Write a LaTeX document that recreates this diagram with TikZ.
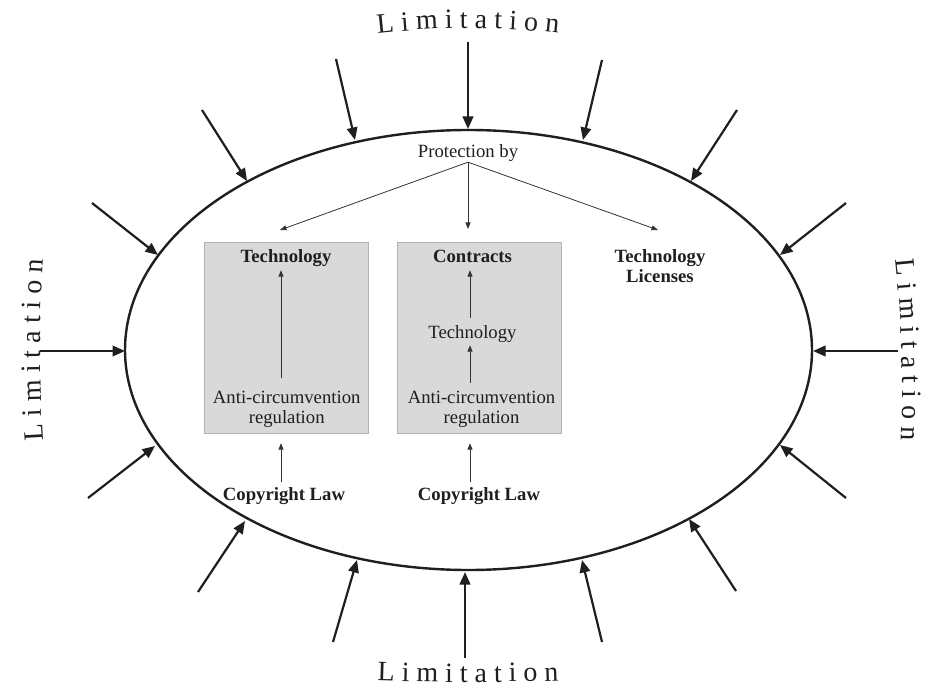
\documentclass[tikz,border=0pt]{standalone}
\usepackage{fontspec}
\setmainfont{Liberation Serif}
\usetikzlibrary{arrows.meta,decorations.text}
\newcommand\limfont{\fontsize{28}{28}\selectfont}
\begin{document}
\begin{tikzpicture}[x=1pt,y=-1pt,
  ell/.style={draw=black!88, line width=2.4pt},
  outarrow/.style={draw=black!88, line width=2.2pt, -{Triangle[length=12.5pt,width=10.5pt]}},
  inarrow/.style={draw=black!80, line width=0.8pt, -{Triangle[length=6.5pt,width=5pt]}},
  graybox/.style={draw=black!30, line width=0.8pt, fill=black!15, inner sep=0pt, minimum width=164pt, minimum height=191pt},
  txt/.style={font=\fontsize{18.7}{21}\selectfont, text=black!88, inner sep=0pt, text height=13pt, text depth=4pt, anchor=base},
  btxt/.style={txt, font=\fontsize{18.7}{21}\selectfont\bfseries},
  limtext/.style={decorate, decoration={text along path, text color=black!88, text={|\limfont|L i m i t a t i o n}, text align=center}}
]
\useasboundingbox (0,0) rectangle (934,687);

% ellipse
\draw[ell] (468.5,350) ellipse [x radius=343.5, y radius=220];

% outer limitation arrows
\foreach \sx/\sy/\ex/\ey in {468/42/468/129, 336/59/355/140, 602/60/583/140,
  202/110/247/181, 737/110/691/181, 92/203/158/255, 846/203/780/255,
  40/351/125/351, 898/351/813/351, 88/498/155/446, 846/498/780/445,
  198/592/245/521, 736/591/689/519, 333/642/357/560, 602/642/582/560,
  465/658/465/572}
  \draw[outarrow] (\sx,\sy) -- (\ex,\ey);

% Limitation labels
\path[limtext] (358,35.8) .. controls (431,25.8) and (505,25.8) .. (578,35.8);
\path[limtext] (358,680) .. controls (431,683) and (505,683) .. (578,680);
\path[limtext] (44,455) .. controls (39,385) and (39,315) .. (44,245);
\path[limtext] (894,245) .. controls (902,315) and (904,385) .. (901,455);

% boxes
\node[graybox] (box1) at (286,337.5) {};
\node[graybox] (box2) at (479.5,337.5) {};

% texts
\node[txt] (prot) at (468,158) {Protection by};
\node[btxt] (tech1) at (286,262) {Technology};
\node[txt] (anti1a) at (286.7,403) {Anti-circumvention};
\node[txt] (anti1b) at (286.7,423) {regulation};
\node[btxt] (copy1) at (284,500) {Copyright Law};
\node[btxt] (con2) at (472.5,262) {Contracts};
\node[txt] (tech2) at (472.5,338) {Technology};
\node[txt] (anti2a) at (481.5,403) {Anti-circumvention};
\node[txt] (anti2b) at (481.5,423) {regulation};
\node[btxt] (copy2) at (479,500) {Copyright Law};
\node[btxt] (lic1) at (660,262) {Technology};
\node[btxt] (lic2) at (660,282) {Licenses};

% helper coordinates
\coordinate (xa) at (281,0);
\coordinate (xb) at (470,0);
\coordinate (pl) at (280,230);
\coordinate (pm) at (468,229);
\coordinate (pr) at (658,230);

% protection arrows
\draw[inarrow] (prot.south) -- (pl);
\draw[inarrow] (prot.south) -- (pm);
\draw[inarrow] (prot.south) -- (pr);

% inner arrows
\draw[inarrow, shorten <=12pt, shorten >=4pt] (anti1a.north -| xa) -- (tech1.south -| xa);
\draw[inarrow, shorten <=5pt, shorten >=16pt] (copy1.north -| xa) -- (anti1b.south -| xa);
\draw[inarrow, shorten <=7pt, shorten >=3pt] (anti2a.north -| xb) -- (tech2.south -| xb);
\draw[inarrow, shorten <=7pt, shorten >=4pt] (tech2.north -| xb) -- (con2.south -| xb);
\draw[inarrow, shorten <=5pt, shorten >=16pt] (copy2.north -| xb) -- (anti2b.south -| xb);
\end{tikzpicture}
\end{document}
